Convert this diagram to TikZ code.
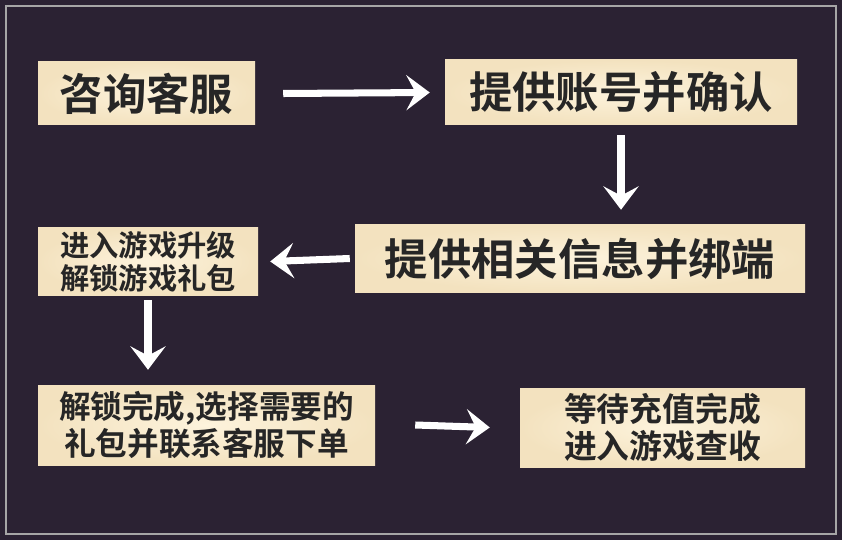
\documentclass[tikz,border=0pt]{standalone}
\usepackage{fontspec}
\newfontfamily\cjk[BoldFont={Noto Sans CJK SC Bold}]{Noto Sans CJK SC}
\usetikzlibrary{arrows.meta}
\definecolor{bgpurple}{HTML}{2B2233}
\definecolor{cream}{HTML}{FDF3DC}
\definecolor{creamedge}{HTML}{F3E2BF}
\tikzset{
  stepbox/.style={inner color=cream, outer color=creamedge, inner sep=0pt,
    align=center, text=black!85},
  flow/.style={white, line width=6pt, -{Stealth[length=20pt,width=30pt,inset=8pt]}}
}
\begin{document}
\begin{tikzpicture}[x=0.03cm,y=-0.03cm]
  \fill[bgpurple] (0,0) rectangle (842,540);
  \draw[gray!70, line width=1pt] (6,6) rectangle (836,534);

  \node[stepbox, minimum width=217*0.03cm, minimum height=63*0.03cm, font=\cjk\bfseries\fontsize{37}{40}\selectfont] (ask) at (146.5,93.5) {咨询客服};
  \node[stepbox, minimum width=352*0.03cm, minimum height=65*0.03cm, font=\cjk\bfseries\fontsize{37}{40}\selectfont] (acct) at (621,92.5) {提供账号并确认};
  \node[stepbox, minimum width=450*0.03cm, minimum height=67*0.03cm, font=\cjk\bfseries\fontsize{37}{40}\selectfont] (info) at (580,258.5) {提供相关信息并绑端};
  \node[stepbox, minimum width=220*0.03cm, minimum height=67*0.03cm, font=\cjk\bfseries\fontsize{25}{28}\selectfont] (game) at (148,261.5) {进入游戏升级\\解锁游戏礼包};
  \node[stepbox, minimum width=337*0.03cm, minimum height=80*0.03cm, font=\cjk\bfseries\fontsize{27}{32}\selectfont] (gift) at (206.5,425) {解锁完成,选择需要的\\礼包并联系客服下单};
  \node[stepbox, minimum width=285*0.03cm, minimum height=79*0.03cm, font=\cjk\bfseries\fontsize{28}{32}\selectfont] (wait) at (662.5,427.5) {等待充值完成\\进入游戏查收};

  \draw[flow] ([xshift=28*0.03cm]ask.east) -- ([xshift=-15*0.03cm]acct.west);
  \draw[flow] ([yshift=-10*0.03cm]acct.south) -- ([yshift=15*0.03cm]acct.south |- info.north);
  \draw[flow] ([xshift=-5*0.03cm]info.west) -- ([xshift=12*0.03cm]game.east);
  \draw[flow] ([yshift=-5*0.03cm]game.south) -- ([yshift=15*0.03cm]game.south |- gift.north);
  \draw[flow] ([xshift=40*0.03cm]gift.east) -- ([xshift=-30*0.03cm]wait.west);
\end{tikzpicture}
\end{document}
